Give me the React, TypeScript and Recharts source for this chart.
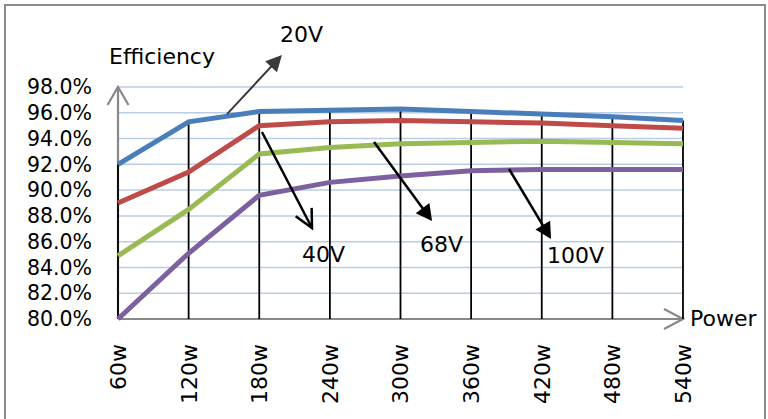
import React from 'react';
import {
    LineChart,
    Line,
    XAxis,
    YAxis,
    CartesianGrid,
    ReferenceLine
} from 'recharts';

// 出力 (W)
const powers = [60, 120, 180, 240, 300, 360, 420, 480, 540];
const powerLabels = powers.map(p => `${p}w`);

// 入力電圧ごとの効率 (%)
const eff20V = [92.0, 95.3, 96.1, 96.2, 96.3, 96.1, 95.9, 95.7, 95.4];
const eff40V = [89.0, 91.4, 95.0, 95.3, 95.4, 95.3, 95.2, 95.0, 94.8];
const eff68V = [84.9, 88.5, 92.8, 93.3, 93.6, 93.7, 93.8, 93.7, 93.6];
const eff100V = [80.0, 85.1, 89.6, 90.6, 91.1, 91.5, 91.6, 91.6, 91.6];

const yTicks = [80, 82, 84, 86, 88, 90, 92, 94, 96, 98];

const FONT = 'DejaVu Sans';

const data = powers.map((p, i) => ({
    power: p,
    v20: eff20V[i],
    v40: eff40V[i],
    v68: eff68V[i],
    v100: eff100V[i],
}));

// 矢印の描画 (線 + 矢じり + ラベル)
const makeArrow = (opts: {
    color: string;
    width: number;
    head: 'fill' | 'open';
    len: number;
    half: number;
    label?: string;
    dx?: number;
    dy?: number;
}) => (props: any) => {
    const { x1, y1, x2, y2 } = props;
    const ddx = x2 - x1;
    const ddy = y2 - y1;
    const d = Math.sqrt(ddx * ddx + ddy * ddy) || 1;
    const ux = ddx / d;
    const uy = ddy / d;
    const nx = -uy;
    const ny = ux;
    const bx = x2 - ux * opts.len;
    const by = y2 - uy * opts.len;
    const endX = opts.head === 'fill' ? x2 - ux * opts.len * 0.7 : x2;
    const endY = opts.head === 'fill' ? y2 - uy * opts.len * 0.7 : y2;
    return (
        <g>
            <line x1={x1} y1={y1} x2={endX} y2={endY} stroke={opts.color} strokeWidth={opts.width} />
            {opts.head === 'fill' ? (
                <polygon
                    points={`${x2},${y2} ${bx + nx * opts.half},${by + ny * opts.half} ${bx - nx * opts.half},${by - ny * opts.half}`}
                    fill={opts.color}
                />
            ) : (
                <polyline
                    points={`${bx + nx * opts.half},${by + ny * opts.half} ${x2},${y2} ${bx - nx * opts.half},${by - ny * opts.half}`}
                    fill="none"
                    stroke={opts.color}
                    strokeWidth={opts.width}
                />
            )}
            {opts.label && (
                <text x={x2 + (opts.dx || 0)} y={y2 + (opts.dy || 0)} fontSize={22} fontFamily={FONT} fill="#000">
                    {opts.label}
                </text>
            )}
        </g>
    );
};

const XTick = (props: any) => {
    const { x, y, payload } = props;
    return (
        <text
            x={x}
            y={y}
            transform={`rotate(-90, ${x}, ${y})`}
            textAnchor="end"
            dy="0.36em"
            fontSize={22}
            fontFamily={FONT}
            fill="#000"
        >
            {powerLabels[powers.indexOf(payload.value)]}
        </text>
    );
};

export default function App() {
    return (
        <div style={{ position: 'absolute', left: 0, top: 0, width: 768, height: 419, overflow: 'hidden', background: '#fff' }}>
            <div style={{
                position: 'absolute',
                left: 4,
                top: 4,
                width: 758,
                height: 440,
                border: '2px solid #8c8c8c'
            }} />
            <div style={{ position: 'absolute', left: 0, top: 0 }}>
                <LineChart width={768} height={419} data={data} margin={{ top: 87, right: 85, bottom: 0, left: 0 }}>
                    <CartesianGrid vertical={false} stroke="#b9cde5" strokeWidth={1.5} />
                    <XAxis
                        dataKey="power"
                        type="number"
                        domain={[60, 540]}
                        ticks={powers}
                        axisLine={false}
                        tickLine={false}
                        height={100}
                        tickMargin={19}
                        tick={<XTick />}
                        interval={0}
                    />
                    <YAxis
                        domain={[80, 98]}
                        ticks={yTicks}
                        width={118}
                        axisLine={false}
                        tickLine={false}
                        tickMargin={20}
                        tickFormatter={(v: number) => `${v.toFixed(1)}%`}
                        tick={{ fill: '#000', fontSize: 20.5, fontFamily: FONT }}
                        interval={0}
                    />
                    {/* 軸 (矢印付き) */}
                    <ReferenceLine
                        segment={[{ x: 60, y: 80 }, { x: 60, y: 98 }]}
                        ifOverflow="visible"
                        shape={makeArrow({ color: '#888', width: 2.2, head: 'open', len: 18, half: 10.5, label: 'Efficiency', dx: -9, dy: -23 })}
                    />
                    <ReferenceLine
                        segment={[{ x: 60, y: 80 }, { x: 540, y: 80 }]}
                        ifOverflow="visible"
                        shape={makeArrow({ color: '#888', width: 2.2, head: 'open', len: 19, half: 10, label: 'Power', dx: 7, dy: 7 })}
                    />
                    {/* ドロップライン */}
                    {powers.map((p, i) => (
                        <ReferenceLine
                            key={`drop-${p}`}
                            segment={[{ x: p, y: 80 }, { x: p, y: Math.max(eff20V[i], eff40V[i], eff68V[i], eff100V[i]) }]}
                            stroke="#000"
                            strokeWidth={1.8}
                            ifOverflow="visible"
                        />
                    ))}
                    <Line dataKey="v20" stroke="#4a7ebb" strokeWidth={5} dot={false} isAnimationActive={false} />
                    <Line dataKey="v40" stroke="#be4b48" strokeWidth={5} dot={false} isAnimationActive={false} />
                    <Line dataKey="v68" stroke="#98b954" strokeWidth={5} dot={false} isAnimationActive={false} />
                    <Line dataKey="v100" stroke="#7d60a0" strokeWidth={5} dot={false} isAnimationActive={false} />
                    {/* 注釈の矢印 */}
                    <ReferenceLine
                        segment={[{ x: 152.6, y: 95.9 }, { x: 199.3, y: 100.48 }]}
                        ifOverflow="visible"
                        shape={makeArrow({ color: '#3a3a3a', width: 2, head: 'fill', len: 16, half: 8, label: '20V', dx: -2, dy: -13 })}
                    />
                    <ReferenceLine
                        segment={[{ x: 182.3, y: 94.51 }, { x: 224.8, y: 87.06 }]}
                        ifOverflow="visible"
                        shape={makeArrow({ color: '#000', width: 2.5, head: 'open', len: 18, half: 9, label: '40V', dx: -10, dy: 34 })}
                    />
                    <ReferenceLine
                        segment={[{ x: 277.5, y: 93.73 }, { x: 326.8, y: 87.6 }]}
                        ifOverflow="visible"
                        shape={makeArrow({ color: '#000', width: 2.5, head: 'fill', len: 16, half: 8.5, label: '68V', dx: -12, dy: 31 })}
                    />
                    <ReferenceLine
                        segment={[{ x: 392.2, y: 91.64 }, { x: 427.9, y: 86.21 }]}
                        ifOverflow="visible"
                        shape={makeArrow({ color: '#000', width: 2.5, head: 'fill', len: 16, half: 8.5, label: '100V', dx: -4, dy: 24 })}
                    />
                </LineChart>
            </div>
        </div>
    );
}
